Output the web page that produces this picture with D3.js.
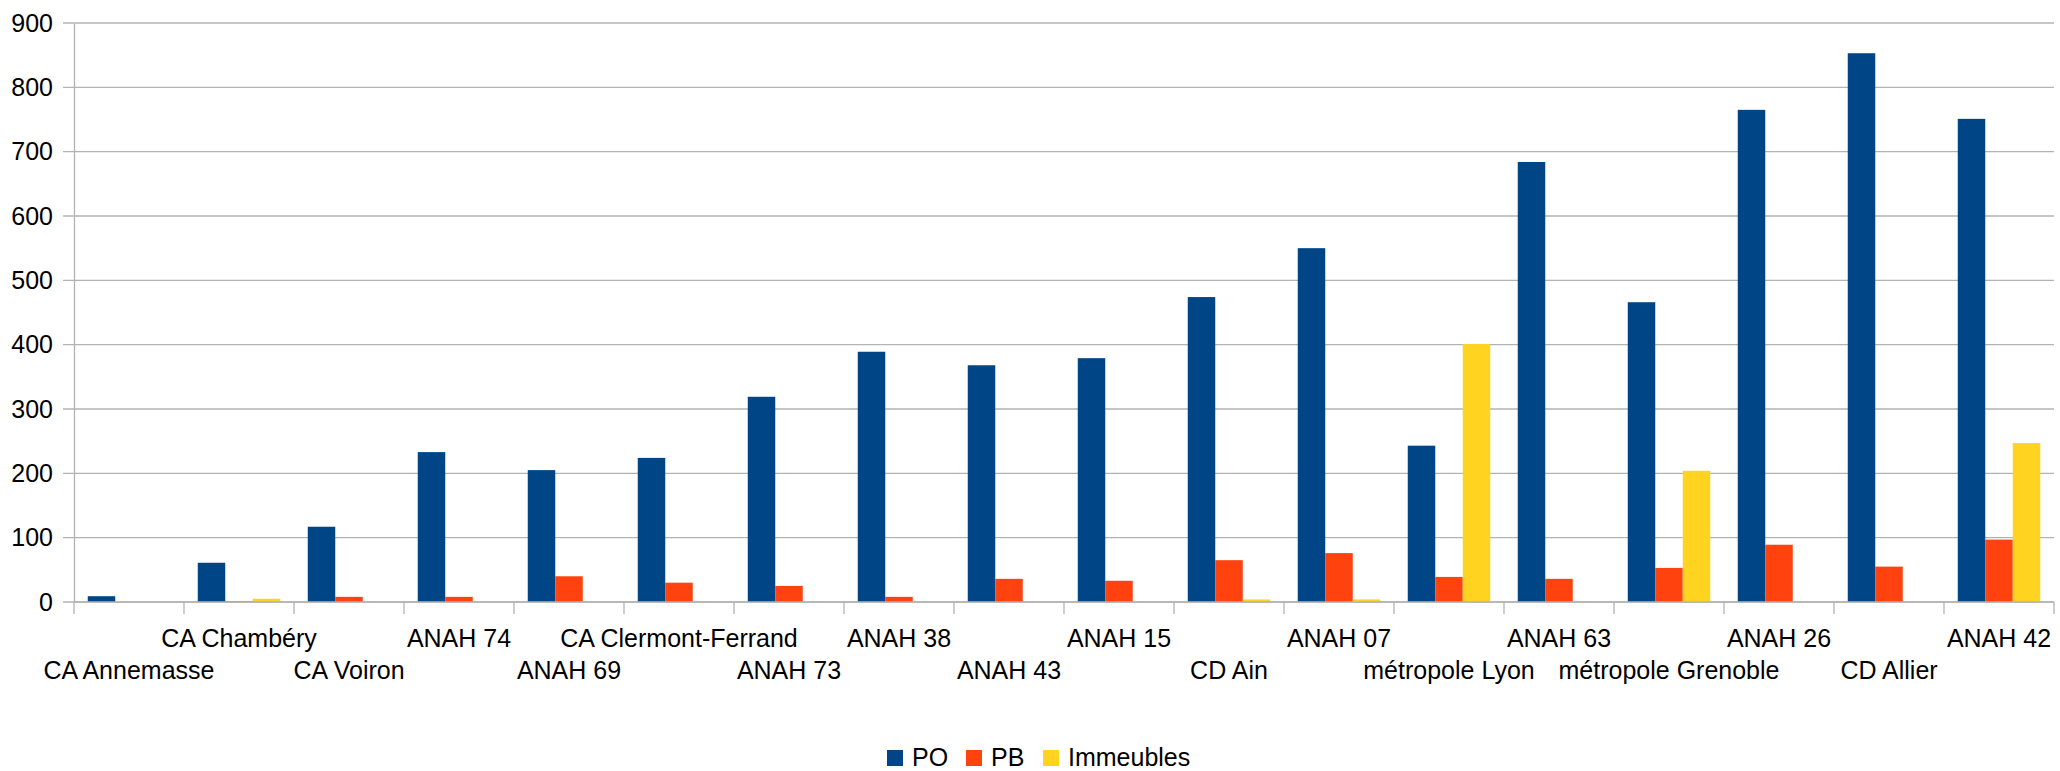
<!doctype html>
<html>
<head>
<meta charset="utf-8">
<style>
  body { margin: 0; background: #fff; }
  text { font-family: "Liberation Sans", Arial, sans-serif; fill: #000; }
</style>
</head>
<body>
  <svg id="chart"></svg>
<script src="https://d3js.org/d3.v7.min.js"></script>
<script>
  const categories = ["CA Annemasse", "CA Chambéry", "CA Voiron", "ANAH 74", "ANAH 69",
    "CA Clermont-Ferrand", "ANAH 73", "ANAH 38", "ANAH 43", "ANAH 15", "CD Ain", "ANAH 07",
    "métropole Lyon", "ANAH 63", "métropole Grenoble", "ANAH 26", "CD Allier", "ANAH 42"];
  const series = ["PO", "PB", "Immeubles"];
  const po = [9, 61, 117, 233, 205, 224, 319, 389, 368, 379, 474, 550, 243, 684, 466, 765, 853, 751];
  const pb = [0, 1, 8, 8, 40, 30, 25, 8, 36, 33, 65, 76, 39, 36, 53, 89, 55, 97];
  const immeubles = [0, 5, 0, 0, 0, 0, 0, 0, 0, 0, 4, 4, 401, 0, 204, 0, 0, 247];
  const yTicks = [0, 100, 200, 300, 400, 500, 600, 700, 800, 900];
  const colors = ["#004586", "#ff420e", "#ffd320"];

  const width = 2060, height = 771
  const plot = { left: 74, right: 2054, top: 23, bottom: 602 }

  const svg = d3.select("#chart").attr("width", width).attr("height", height)

  const x = d3.scaleBand().domain(categories).range([plot.left, plot.right])
  const xs = d3.scaleBand().domain(series)
    .range([x.bandwidth() / 8, x.bandwidth() * 7 / 8])
  const y = d3.scaleLinear().domain([0, 900]).range([plot.bottom, plot.top])
  const color = d3.scaleOrdinal().domain(series).range(colors)

  // grid lines
  svg.append("g")
    .selectAll("line")
    .data(yTicks)
    .enter()
    .append("line")
    .attr("x1", plot.left - 11).attr("x2", plot.right)
    .attr("y1", d => y(d)).attr("y2", d => y(d))
    .attr("stroke", "#b3b3b3")
    .attr("stroke-width", 1.3)

  // y axis
  const yAxis = svg.append("g")
    .attr("transform", `translate(${plot.left},0)`)
    .call(d3.axisLeft(y).tickValues(yTicks).tickSize(0).tickPadding(21))
  yAxis.select(".domain").attr("stroke", "#b3b3b3").attr("stroke-width", 1.3)
  yAxis.selectAll("text").attr("font-size", 25).attr("font-family", "Liberation Sans")

  // bars
  const rows = categories.map((c, i) => ({ cat: c, values: [po[i], pb[i], immeubles[i]] }))
  svg.append("g")
    .selectAll("g")
    .data(rows)
    .enter()
    .append("g")
    .attr("transform", d => `translate(${x(d.cat)},0)`)
    .selectAll("rect")
    .data(d => d.values.map((v, k) => ({ key: series[k], value: v })))
    .enter()
    .append("rect")
    .attr("x", d => xs(d.key))
    .attr("width", xs.bandwidth())
    .attr("y", d => y(d.value))
    .attr("height", d => y(0) - y(d.value))
    .attr("fill", d => color(d.key))

  // x axis
  svg.append("line")
    .attr("x1", plot.left).attr("x2", plot.right)
    .attr("y1", plot.bottom).attr("y2", plot.bottom)
    .attr("stroke", "#b3b3b3").attr("stroke-width", 1.3)
  svg.append("g")
    .selectAll("line")
    .data(categories.concat([null]))
    .enter()
    .append("line")
    .attr("x1", (d, i) => plot.left + i * x.step())
    .attr("x2", (d, i) => plot.left + i * x.step())
    .attr("y1", plot.bottom).attr("y2", plot.bottom + 12)
    .attr("stroke", "#b3b3b3").attr("stroke-width", 1.3)

  svg.append("g")
    .selectAll("text")
    .data(categories)
    .enter()
    .append("text")
    .attr("x", d => x(d) + x.bandwidth() / 2)
    .attr("y", (d, i) => i % 2 == 0 ? 679 : 647)
    .attr("text-anchor", "middle")
    .attr("font-size", 25)
    .text(d => d)

  // legend
  const legendX = [887, 966, 1043]
  const legend = svg.append("g")
    .selectAll("g")
    .data(series)
    .enter()
    .append("g")
    .attr("transform", (d, i) => `translate(${legendX[i]},750)`)
  legend.append("rect")
    .attr("width", 16).attr("height", 16)
    .attr("fill", d => color(d))
  legend.append("text")
    .attr("x", 25).attr("y", 16)
    .attr("font-size", 25)
    .text(d => d)
</script>
</body>
</html>
